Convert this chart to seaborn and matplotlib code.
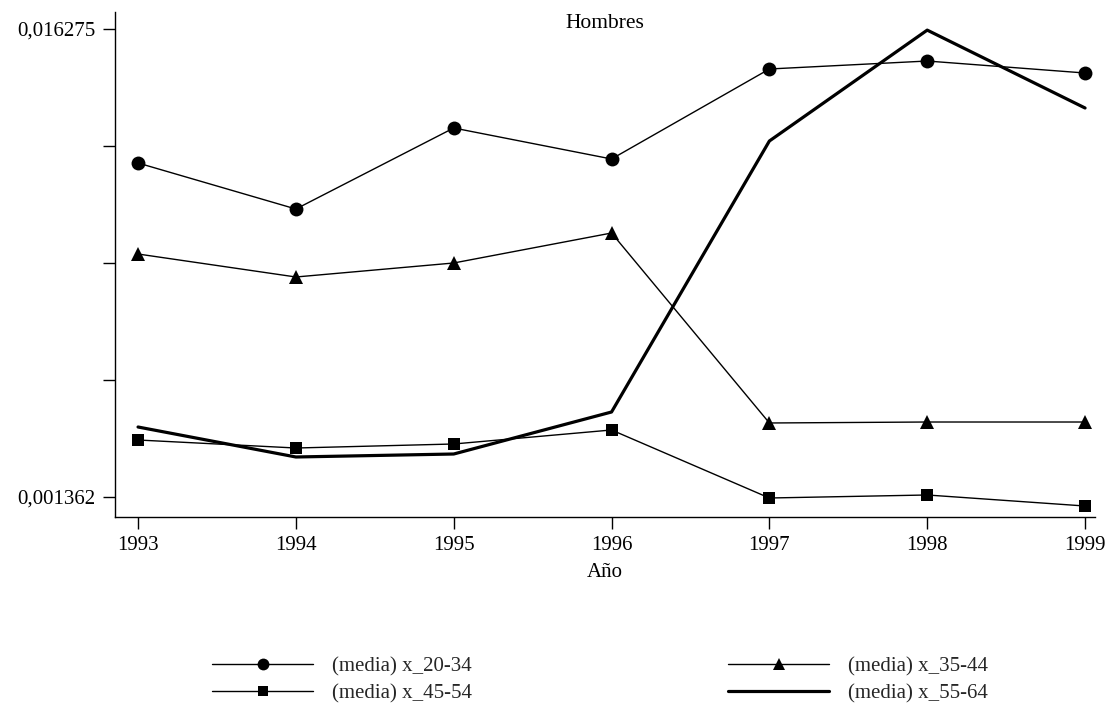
import matplotlib
matplotlib.use("Agg")
import matplotlib.pyplot as plt
import seaborn as sns
import pandas as pd
from matplotlib.ticker import FixedLocator, FuncFormatter

years = [1993, 1994, 1995, 1996, 1997, 1998, 1999]
x_20_34 = [0.011998, 0.010533, 0.013113, 0.012126, 0.014992, 0.015246, 0.014864]
x_35_44 = [0.009100, 0.008368, 0.008814, 0.009769, 0.003719, 0.003750, 0.003750]
x_45_54 = [0.003177, 0.002922, 0.003050, 0.003496, 0.001330, 0.001426, 0.001075]
x_55_64 = [0.003591, 0.002636, 0.002731, 0.004069, 0.012699, 0.016230, 0.013750]
labels = ["(media) x_20-34", "(media) x_35-44", "(media) x_45-54", "(media) x_55-64"]
y_min_label, y_max_label = 0.001362, 0.016275

sns.set_theme(style="white")
plt.rcParams['font.family'] = ['Liberation Serif', 'DejaVu Serif']

FS = 15

fig = plt.figure(figsize=(11.14, 7.06), dpi=100)
ax = fig.add_axes([115/1114, 1-517/706, (1095-115)/1114, (517-12)/706])

df = pd.DataFrame({"year": years, "a": x_20_34, "b": x_35_44, "c": x_45_54, "d": x_55_64})
styles = [("a", "o", 1.0, 10), ("b", "^", 1.0, 10.5), ("c", "s", 1.0, 9), ("d", None, 2.3, 0)]
for (col, mk, lw, ms), lab in zip(styles, labels):
    sns.lineplot(data=df, x="year", y=col, ax=ax, color="black", lw=lw,
                 marker=mk, markersize=ms, markeredgewidth=0, label=lab, legend=False)

ax.set_xlim(1992.854, 1999.063)
ax.set_ylim(0.000725, 0.016807)
ax.set_xticks(years)
ax.yaxis.set_major_locator(FixedLocator([y_min_label + i*(y_max_label-y_min_label)/4 for i in range(5)]))
def fmt(v, pos):
    if pos in (0, 4):
        return f"{v:.6f}".replace(".", ",")
    return ""
ax.yaxis.set_major_formatter(FuncFormatter(fmt))
ax.tick_params(axis="both", direction="out", length=8.6, width=1, color="black",
               labelsize=FS, labelcolor="black", bottom=True, left=True)
ax.tick_params(axis="x", pad=5)
ax.tick_params(axis="y", pad=5.5)
for s in ["top", "right"]:
    ax.spines[s].set_visible(False)
for s in ["left", "bottom"]:
    ax.spines[s].set_color("black")
    ax.spines[s].set_linewidth(1.0)
ax.set_xlabel("Año", fontsize=FS, color="black", labelpad=6)
ax.set_ylabel("")
ax.grid(False)
ax.text(0.5, 0.996, "Hombres", transform=ax.transAxes, ha="center", va="top", fontsize=15.5, color="black")

h, l = ax.get_legend_handles_labels()
order = [0, 2, 1, 3]
fig.legend([h[i] for i in order], [l[i] for i in order], ncol=2, loc="center left",
           bbox_to_anchor=(212/1114, 1-680/706), frameon=False, fontsize=FS,
           handlelength=4.85, handletextpad=0.9, columnspacing=12.3, labelspacing=0.35,
           markerscale=0.85, borderpad=0, borderaxespad=0)

fig.savefig("out.png", dpi=100)
